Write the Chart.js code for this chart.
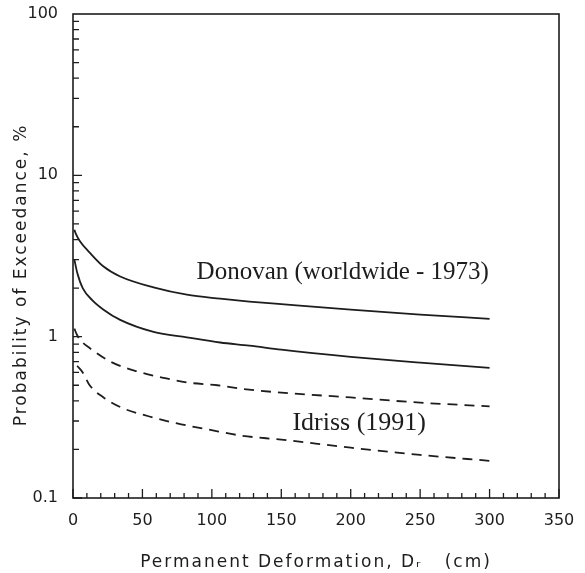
<!DOCTYPE html>
<html>
<head>
<meta charset="utf-8">
<script src="https://cdn.jsdelivr.net/npm/chart.js@4"></script>
<style>
  html, body { margin: 0; padding: 0; background: #fff; }
  #wrap { width: 585px; height: 573px; }
</style>
</head>
<body>
<div id="wrap"><canvas id="chart"></canvas></div>
<script>
// Donovan (worldwide - 1973), two solid curves
const donovanHighX = [1, 2, 5, 12, 22, 34, 58, 82, 106, 127, 150, 200, 250, 300];
const donovanHigh = [4.6, 4.35, 3.9, 3.32, 2.72, 2.36, 2.02, 1.82, 1.72, 1.65, 1.59, 1.47, 1.37, 1.29];
const donovanLowX = [1, 3, 7, 14, 22, 34, 58, 82, 106, 127, 150, 200, 250, 300];
const donovanLow = [3.0, 2.5, 2.0, 1.68, 1.47, 1.27, 1.07, 0.99, 0.92, 0.88, 0.83, 0.75, 0.69, 0.64];

// Idriss (1991), two dashed curves
const idrissHighX = [1, 3, 7, 12, 27, 46, 65, 82, 104, 122, 150, 200, 250, 300];
const idrissHigh = [1.12, 1.02, 0.92, 0.85, 0.70, 0.61, 0.556, 0.52, 0.50, 0.475, 0.45, 0.42, 0.39, 0.37];
const idrissLowX = [3, 7, 12, 22, 36, 55, 75, 99, 122, 150, 200, 250, 300];
const idrissLow = [0.66, 0.60, 0.50, 0.42, 0.36, 0.32, 0.29, 0.264, 0.243, 0.23, 0.205, 0.185, 0.17];

const xTicks = [0, 50, 100, 150, 200, 250, 300, 350];
const yTicks = [0.1, 1, 10, 100];

const INK = '#1d1d1d';
const tickFont = { family: 'DejaVu Sans', size: 16 };

function series(xs, ys, dash) {
  return {
    data: xs.map((x, i) => ({ x, y: ys[i] })),
    borderColor: INK,
    borderWidth: 1.8,
    borderDash: dash,
    pointRadius: 0,
    cubicInterpolationMode: 'monotone',
    fill: false,
  };
}

// box around the plot, inward tick marks, axis titles and curve labels
const frame = {
  id: 'frame',
  afterDraw(chart) {
    const { ctx, chartArea: a, scales: { x, y } } = chart;
    ctx.save();
    ctx.strokeStyle = INK;
    ctx.lineWidth = 1.6;
    ctx.strokeRect(a.left, a.top, a.right - a.left, a.bottom - a.top);

    ctx.lineWidth = 1.3;
    ctx.beginPath();
    for (let v = 0; v <= 350; v += 10) {
      const px = x.getPixelForValue(v);
      const len = v % 50 === 0 ? 9 : 5;
      ctx.moveTo(px, a.bottom);
      ctx.lineTo(px, a.bottom - len);
    }
    [0.1, 1, 10].forEach(dec => {
      for (let m = 1; m <= 9; m++) {
        const py = y.getPixelForValue(dec * m);
        ctx.moveTo(a.left, py);
        ctx.lineTo(a.left + (m === 1 ? 9 : 6), py);
      }
    });
    ctx.stroke();

    ctx.fillStyle = INK;
    ctx.textBaseline = 'alphabetic';
    ctx.font = '25px "Liberation Serif"';
    ctx.fillText('Donovan (worldwide - 1973)', x.getPixelForValue(89), y.getPixelForValue(2.29));
    ctx.font = '26px "Liberation Serif"';
    ctx.fillText('Idriss (1991)', x.getPixelForValue(158), y.getPixelForValue(0.264));

    // axis titles, letter-spaced like the original
    ctx.font = '17px "DejaVu Sans"';
    ctx.letterSpacing = '2px';
    ctx.textAlign = 'center';
    ctx.textBaseline = 'middle';
    ctx.fillText('Permanent Deformation, Dᵣ   (cm)', (a.left + a.right) / 2, 563);
    ctx.translate(22, 275);
    ctx.rotate(-Math.PI / 2);
    ctx.fillText('Probability of Exceedance, %', 0, 0);
    ctx.restore();
  }
};

new Chart(document.getElementById('chart'), {
  type: 'line',
  data: {
    datasets: [
      series(donovanHighX, donovanHigh, []),
      series(donovanLowX, donovanLow, []),
      series(idrissHighX, idrissHigh, [10, 7]),
      series(idrissLowX, idrissLow, [10, 7]),
    ],
  },
  options: {
    responsive: true,
    maintainAspectRatio: false,
    animation: false,
    layout: { padding: { top: 14, right: 26, bottom: 0, left: 0 } },
    plugins: { legend: { display: false }, tooltip: { enabled: false } },
    scales: {
      x: {
        type: 'linear',
        min: 0,
        max: 350,
        afterBuildTicks: s => { s.ticks = xTicks.map(v => ({ value: v })); },
        afterFit: s => { s.height = 75; s.paddingLeft = 0; s.paddingRight = 0; },
        grid: { display: false, drawTicks: false },
        border: { display: false },
        ticks: { color: INK, font: tickFont, padding: 13, maxRotation: 0 },
      },
      y: {
        type: 'logarithmic',
        min: 0.1,
        max: 100,
        afterBuildTicks: s => { s.ticks = yTicks.map(v => ({ value: v })); },
        afterFit: s => { s.width = 73; s.paddingTop = 0; s.paddingBottom = 0; },
        grid: { display: false, drawTicks: false },
        border: { display: false },
        ticks: { color: INK, font: tickFont, padding: 15, callback: v => String(v) },
      },
    },
  },
  plugins: [frame],
});
</script>
</body>
</html>
